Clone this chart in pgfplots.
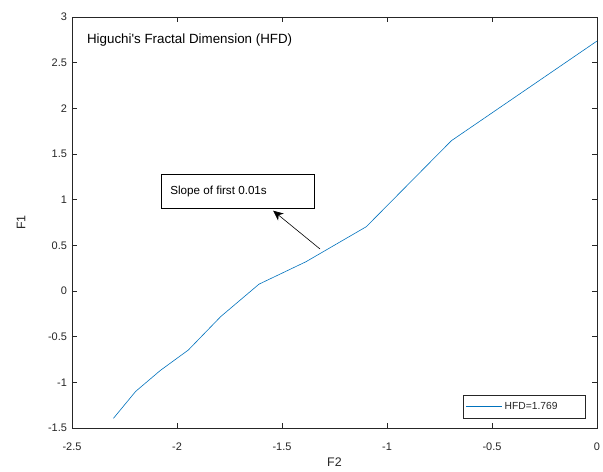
\documentclass[border=0pt]{standalone}
\usepackage{pgfplots}
\pgfplotsset{compat=1.18}
\usetikzlibrary{arrows.meta}
\usepackage{fontspec}
\setmainfont{Liberation Sans}
\definecolor{mblue}{rgb}{0,0.447,0.741}
\definecolor{axgray}{rgb}{0.15,0.15,0.15}
\begin{document}
\fontsize{10}{12}\selectfont
\begin{tikzpicture}
\begin{axis}[
  name=ax,
  scale only axis,
  width=525bp, height=411bp,
  xmin=-2.5, xmax=0, ymin=-1.5, ymax=3,
  xtick={-2.5,-2,-1.5,-1,-0.5,0},
  ytick={-1.5,-1,-0.5,0,0.5,1,1.5,2,2.5,3},
  xticklabels={-2.5,-2,-1.5,-1,-0.5,0},
  yticklabels={-1.5,-1,-0.5,0,0.5,1,1.5,2,2.5,3},
  tick align=inside,
  major tick length=5bp,
  axis line style={axgray, line width=0.5bp},
  tick style={axgray, line width=0.5bp},
  every tick label/.append style={font=\fontsize{11}{13}\selectfont, text=axgray},
  xticklabel style={yshift=-11bp},
  yticklabel style={xshift=-1.5bp},
  xlabel={F2}, ylabel={F1},
  label style={font=\fontsize{12.5}{14}\selectfont, text=axgray},
  xlabel style={at={(axis description cs:0.5,0)}, anchor=center, yshift=-34bp},
  ylabel style={yshift=16bp},
  legend style={at={(axis description cs:0.979,0.024)}, anchor=south east,
    draw=axgray, line width=0.5bp, font=\fontsize{10.3}{12}\selectfont,
    inner xsep=3bp, inner ysep=5bp, text=axgray},
  legend cell align=left,
  legend image code/.code={\draw[#1] (0cm,0cm) -- (36bp,0cm);},
  clip=false,
]
\addplot[mblue, line width=0.6bp] coordinates {
(-2.302585,-1.394)
(-2.197225,-1.100)
(-2.079442,-0.870)
(-1.945910,-0.646)
(-1.791759,-0.280)
(-1.609438,0.075)
(-1.386294,0.320)
(-1.098612,0.704)
(-0.693147,1.646)
(0,2.737)
};
\addlegendentry{\makebox[76bp][l]{HFD=1.769}}
\node[anchor=west, inner sep=0pt, text=black, font=\fontsize{13.4}{15}\selectfont] at (axis cs:-2.429,2.75) {Higuchi\textquotesingle s Fractal Dimension (HFD)};
\draw[black, line width=0.5bp, fill=white] (axis cs:-2.073,0.905) rectangle (axis cs:-1.346,1.278);
\node[anchor=west, inner sep=0pt, font=\fontsize{11.7}{13}\selectfont] at (axis cs:-2.033,1.09) {Slope of first 0.01s};
\draw[black, line width=0.6bp, -{Stealth[length=10bp,width=9bp,inset=3bp]}] (axis cs:-1.319,0.46) -- (axis cs:-1.542,0.879);
\end{axis}
\pgfresetboundingbox
\path ([xshift=-72bp,yshift=-44bp]ax.south west) rectangle ([xshift=6bp,yshift=17bp]ax.north east);
\end{tikzpicture}
\end{document}
